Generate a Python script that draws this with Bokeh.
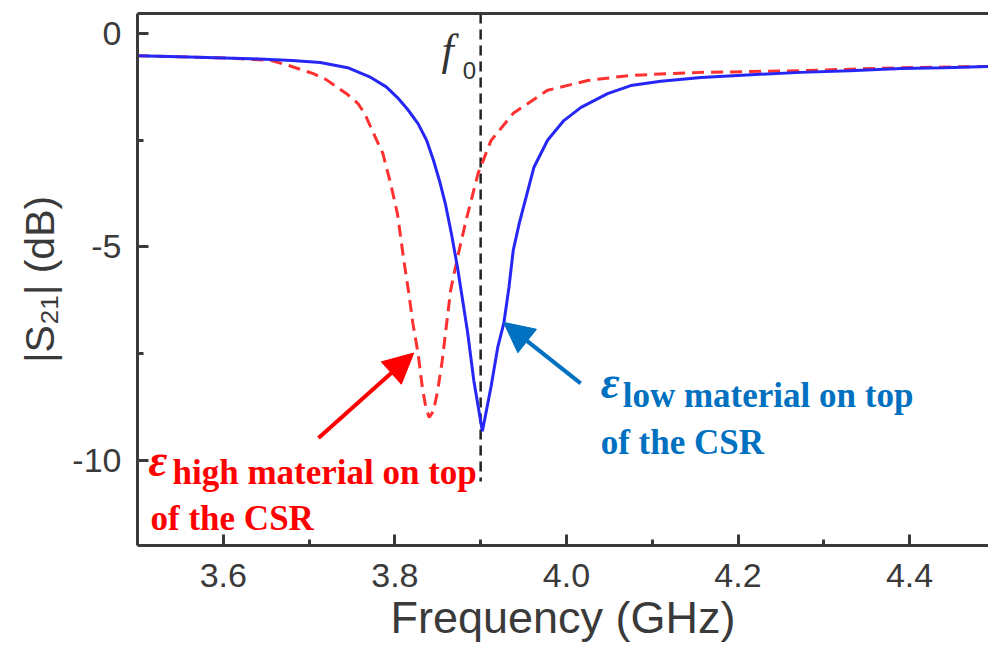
from bokeh.plotting import figure
from bokeh.models import Range1d, LinearAxis, FixedTicker, Arrow, NormalHead, PrintfTickFormatter
from bokeh.core.properties import value
from bokeh.embed import file_html
from bokeh.resources import INLINE

# ---- data ----
freq_low = [3.500, 3.560, 3.632, 3.680, 3.713, 3.745, 3.772, 3.790, 3.803, 3.815,
            3.827, 3.837, 3.845, 3.852, 3.859, 3.866, 3.873, 3.879, 3.885, 3.892,
            3.902, 3.912, 3.920, 3.927, 3.933, 3.938, 3.945, 3.952, 3.962, 3.978,
            3.997, 4.017, 4.048, 4.075, 4.110, 4.157, 4.210, 4.273, 4.330, 4.390,
            4.440, 4.492]
s21_low = [-0.52, -0.55, -0.59, -0.63, -0.68, -0.80, -1.03, -1.25, -1.50, -1.78,
           -2.11, -2.50, -2.97, -3.45, -4.00, -4.70, -5.48, -6.25, -7.03, -8.13,
           -9.32, -8.29, -7.35, -6.79, -5.95, -5.08, -4.45, -3.91, -3.14, -2.50,
           -2.04, -1.73, -1.41, -1.22, -1.12, -1.03, -0.97, -0.91, -0.87, -0.82,
           -0.80, -0.77]

freq_high = [3.500, 3.560, 3.610, 3.655, 3.678, 3.705, 3.720, 3.733, 3.745, 3.757,
             3.765, 3.772, 3.786, 3.795, 3.803, 3.810, 3.816, 3.821, 3.827, 3.832,
             3.836, 3.840, 3.845, 3.850, 3.855, 3.859, 3.865, 3.873, 3.883, 3.897,
             3.912, 3.938, 3.978, 4.025, 4.075, 4.157, 4.273, 4.390, 4.492]
s21_high = [-0.52, -0.55, -0.58, -0.63, -0.76, -0.94, -1.08, -1.26, -1.43, -1.64,
            -1.88, -2.20, -2.81, -3.51, -4.22, -5.25, -6.05, -6.79, -7.49, -8.29,
            -8.75, -9.00, -8.85, -8.36, -7.70, -7.03, -6.02, -5.25, -4.38, -3.28,
            -2.51, -1.87, -1.33, -1.10, -0.98, -0.91, -0.87, -0.80, -0.77]

f0 = 3.9
x_ticks = [3.6, 3.8, 4.0, 4.2, 4.4]
x_minor = [3.7, 3.9, 4.1, 4.3]
y_ticks = [0, -5, -10]
y_minor = [-2.5, -7.5]
y_tick_labels = ["0", "-5", "-10"]
x_label = "Frequency (GHz)"
y_label = "|S\u2082\u2081| (dB)"
label_high = ["high material on top", "of the CSR"]
label_low = ["low material on top", "of the CSR"]

AX = "#3a3a3a"

p = figure(width=988, height=656, output_backend="svg", toolbar_location=None,
           x_range=Range1d(3.5, 4.492), y_range=Range1d(-12.0, 0.47),
           min_border_left=137, min_border_right=0, min_border_top=13, min_border_bottom=111,
           x_axis_location=None, y_axis_location=None)
p.outline_line_color = None
p.xgrid.visible = False
p.ygrid.visible = False
p.background_fill_color = "white"
p.border_fill_color = "white"

xaxis = LinearAxis(ticker=FixedTicker(ticks=x_ticks, minor_ticks=x_minor),
                   formatter=PrintfTickFormatter(format="%.1f"), axis_label=x_label)
yaxis = LinearAxis(ticker=FixedTicker(ticks=y_ticks, minor_ticks=y_minor), axis_label=y_label,
                   major_label_overrides={t: s for t, s in zip(y_ticks, y_tick_labels)})
for ax in (xaxis, yaxis):
    ax.axis_line_color = AX
    ax.axis_line_width = 3
    ax.major_tick_line_color = AX
    ax.major_tick_line_width = 3
    ax.major_tick_in = 11
    ax.major_tick_out = 0
    ax.minor_tick_line_color = AX
    ax.minor_tick_line_width = 3
    ax.minor_tick_in = 6
    ax.minor_tick_out = 0
    ax.major_label_text_font = "Liberation Sans"
    ax.major_label_text_font_size = "34px"
    ax.major_label_text_color = AX
    ax.axis_label_text_font = "Liberation Sans"
    ax.axis_label_text_font_style = "normal"
    ax.axis_label_text_color = AX
xaxis.axis_label_text_font_size = "45px"
yaxis.axis_label_text_font_size = "41px"
xaxis.major_label_standoff = 18
xaxis.axis_label_standoff = 2
yaxis.major_label_standoff = 16
yaxis.axis_label_standoff = 6
p.add_layout(xaxis, "below")
p.add_layout(yaxis, "left")
top = LinearAxis(ticker=FixedTicker(ticks=[]), major_label_text_font_size="0px",
                 axis_line_color=AX, axis_line_width=3, major_tick_line_color=None,
                 minor_tick_line_color=None)
p.add_layout(top, "above")

# f0 marker
p.line([f0, f0], [0.47, -10.5], line_color="#222222", line_width=2.5, line_dash="10 6")

# curves
p.line(freq_high, s21_high, line_color="#ff3030", line_width=3, line_dash="12 7")
p.line(freq_low, s21_low, line_color="#2626f5", line_width=3)

# f0 label
p.text(x=[3.8545], y=[-0.40], text=["f"], text_font=value("Liberation Serif"),
       text_font_style="italic", text_font_size="44px", text_color="#333333",
       text_baseline="alphabetic")
p.text(x=[3.879], y=[-0.87], text=["0"], text_font=value("Liberation Sans"),
       text_font_size="24px", text_color="#333333", text_baseline="alphabetic")

# annotations
RED = "#ff0000"
BLUE = "#0070c0"
p.add_layout(Arrow(x_start=3.711, y_start=-9.48, x_end=3.822, y_end=-7.49,
                   line_color=RED, line_width=4,
                   end=NormalHead(size=30, fill_color=RED, line_color=RED)))
p.add_layout(Arrow(x_start=4.0166, y_start=-8.20, x_end=3.9268, y_end=-6.77,
                   line_color=BLUE, line_width=4,
                   end=NormalHead(size=30, fill_color=BLUE, line_color=BLUE)))

p.text(x=[3.5128], y=[-10.0], text=["\u03b5"], text_font=value("Liberation Serif"),
       text_font_style="bold italic", text_font_size="46px", text_color=RED, text_baseline="alphabetic")
p.text(x=[3.5408, 3.5152], y=[-10.28, -11.36], text=label_high, text_font=value("Liberation Serif"),
       text_font_style="bold", text_font_size="35px", text_color=RED, text_baseline="alphabetic")
p.text(x=[4.0399], y=[-8.17], text=["\u03b5"], text_font=value("Liberation Serif"),
       text_font_style="bold italic", text_font_size="46px", text_color=BLUE, text_baseline="alphabetic")
p.text(x=[4.0656, 4.0399], y=[-8.48, -9.58], text=label_low, text_font=value("Liberation Serif"),
       text_font_style="bold", text_font_size="35px", text_color=BLUE, text_baseline="alphabetic")

open("out.html", "w").write(file_html(p, INLINE))
